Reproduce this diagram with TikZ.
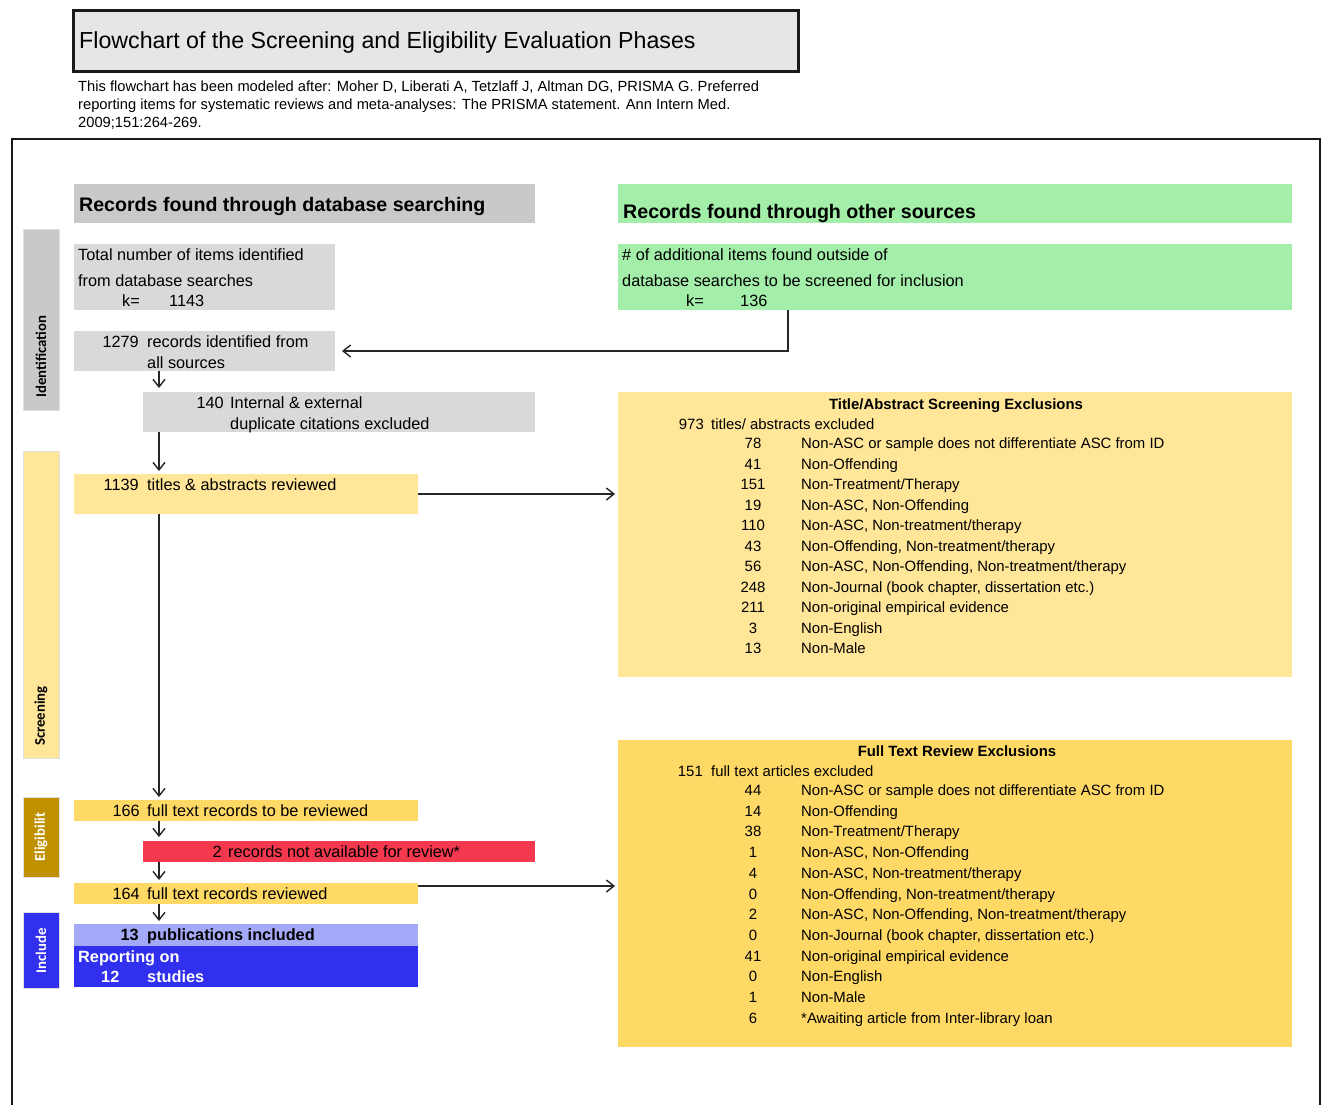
\documentclass[tikz,border=0pt]{standalone}
\usepackage{fontspec}
\setmainfont{Liberation Sans}
\newfontfamily\carl{Carlito}
\usetikzlibrary{arrows.meta,calc}
\definecolor{titlegray}{HTML}{E6E6E6}
\definecolor{hdrgray}{HTML}{C9C9C9}
\definecolor{boxgray}{HTML}{D9D9D9}
\definecolor{grn}{HTML}{A3EEA9}
\definecolor{ylight}{HTML}{FFE699}
\definecolor{ydark}{HTML}{FFD966}
\definecolor{redbox}{HTML}{F4384E}
\definecolor{lblue}{HTML}{A4A9F8}
\definecolor{dblue}{HTML}{3030EE}
\definecolor{gold}{HTML}{BF9000}
\begin{document}
\begin{tikzpicture}[x=1pt,y=-1pt,
  blk/.style={rectangle,draw=none,inner sep=0pt,outer sep=0pt,anchor=north west},
  side/.style={blk,draw=black!12,line width=1pt},
  tl/.style={inner sep=0pt,anchor=base west,font=\fontsize{16.3}{18}\selectfont},
  tn/.style={inner sep=0pt,anchor=base east,font=\fontsize{16.3}{18}\selectfont},
  tr/.style={inner sep=0pt,anchor=base west,font=\fontsize{14.9}{17}\selectfont},
  trn/.style={inner sep=0pt,anchor=base,font=\fontsize{14.9}{17}\selectfont},
  hdr/.style={inner sep=0pt,anchor=base west,font=\fontsize{19.6}{22}\selectfont\bfseries},
  sidelbl/.style={inner sep=0pt,rotate=90,font=\carl\fontsize{14.8}{16}\selectfont\bfseries},
  arr/.style={-{Straight Barb[length=7.5pt,width=12pt,line width=1.4pt]},line width=1.5pt,draw=black!85}
]
\useasboundingbox (0,0) rectangle (1326,1104);

% title
\node[blk,fill=titlegray,draw=black!90,line width=3pt,minimum width=725pt,minimum height=61pt] (title) at (73,10) {};
\node[inner sep=0pt,anchor=base west,font=\fontsize{23.2}{26}\selectfont] (titletxt) at (79,48) {Flowchart of the Screening and Eligibility Evaluation Phases};
\node[inner sep=0pt,anchor=base west,font=\fontsize{14.7}{17}\selectfont] (note1) at (78,91) {This flowchart has been modeled after: Moher D, Liberati A, Tetzlaff J, Altman DG, PRISMA G. Preferred};
\node[inner sep=0pt,anchor=base west,font=\fontsize{14.7}{17}\selectfont] (note2) at (78,109) {reporting items for systematic reviews and meta-analyses: The PRISMA statement. Ann Intern Med.};
\node[inner sep=0pt,anchor=base west,font=\fontsize{14.7}{17}\selectfont] (note3) at (78,127) {2009;151:264-269.};

% frame
\draw[line width=2.7pt,black!90] (12,1106) -- (12,139) -- (1320,139) -- (1320,1106);

% headers
\node[blk,fill=hdrgray,minimum width=461pt,minimum height=39pt] (hdrL) at (74,184) {};
\node[hdr] (hdrLt) at (79,211) {Records found through database searching};
\node[blk,fill=grn,minimum width=674pt,minimum height=39pt] (hdrR) at (618,184) {};
\node[hdr] (hdrRt) at (623,218) {Records found through other sources};

% side labels
\node[side,fill=hdrgray,minimum width=36pt,minimum height=181pt] (idside) at (23,229) {};
\node[sidelbl,anchor=west,text=black] (idlbl) at (41,398) {Identification};
\node[side,fill=ylight,minimum width=36pt,minimum height=307pt] (scrside) at (23,451) {};
\node[sidelbl,anchor=west,text=black] (scrlbl) at (41,746) {Screening};
\node[side,fill=gold,minimum width=36pt,minimum height=80pt] (elside) at (23,797) {};
\node[sidelbl,text=white] (ellbl) at (41,837) {Eligibilit};
\node[side,fill=dblue,minimum width=36pt,minimum height=76pt] (incside) at (23,912) {};
\node[sidelbl,text=white] (inclbl) at (41,951) {Include};

% identification boxes
\node[blk,fill=boxgray,minimum width=261pt,minimum height=66pt] (tot) at (74,244) {};
\node[tl] (tot1) at (78,260) {Total number of items identified};
\node[tl] (tot2) at (78,286) {from database searches};
\node[tl] (tot3) at (122,306) {k=};
\node[tl] (tot4) at (169,306) {1143};

\node[blk,fill=grn,minimum width=674pt,minimum height=66pt] (oth) at (618,244) {};
\node[tl] (oth1) at (622,260) {\# of additional items found outside of};
\node[tl] (oth2) at (622,286) {database searches to be screened for inclusion};
\node[tl] (oth3) at (686,306) {k=};
\node[tl] (oth4) at (740,306) {136};

\node[blk,fill=boxgray,minimum width=261pt,minimum height=40pt] (b1279) at (74,331) {};
\node[tn] (b1279n) at (139,347) {1279};
\node[tl] (b1279a) at (147,347) {records identified from};
\node[tl] (b1279b) at (147,368) {all sources};

\node[blk,fill=boxgray,minimum width=392pt,minimum height=40pt] (b140) at (143,392) {};
\node[tn] (b140n) at (224,408) {140};
\node[tl] (b140a) at (230,408) {Internal \& external};
\node[tl] (b140b) at (230,429) {duplicate citations excluded};

% screening
\node[blk,fill=ylight,minimum width=344pt,minimum height=40pt] (b1139) at (74,474) {};
\node[tn] (b1139n) at (139,490) {1139};
\node[tl] (b1139a) at (147,490) {titles \& abstracts reviewed};

\node[blk,fill=ylight,minimum width=674pt,minimum height=285pt] (ta) at (618,392) {};
\node[inner sep=0pt,anchor=base,font=\fontsize{14.9}{17}\selectfont\bfseries] (tatitle) at (956,409) {Title/Abstract Screening Exclusions};
\node[inner sep=0pt,anchor=base east,font=\fontsize{14.9}{17}\selectfont] (tan) at (704,429) {973};
\node[tr] (tatxt) at (711,429) {titles/ abstracts excluded};
\foreach \n/\t [count=\i from 0] in {78/{Non-ASC or sample does not differentiate ASC from ID},41/{Non-Offending},151/{Non-Treatment/Therapy},19/{Non-ASC, Non-Offending},110/{Non-ASC, Non-treatment/therapy},43/{Non-Offending, Non-treatment/therapy},56/{Non-ASC, Non-Offending, Non-treatment/therapy},248/{Non-Journal (book chapter, dissertation etc.)},211/{Non-original empirical evidence},3/{Non-English},13/{Non-Male}}{
  \node[trn] (tan\i) at (753,{448.5+20.5*\i}) {\n};
  \node[tr] (tat\i) at (801,{448.5+20.5*\i}) {\t};
}

% eligibility
\node[blk,fill=ydark,minimum width=674pt,minimum height=307pt] (ft) at (618,740) {};
\node[inner sep=0pt,anchor=base,font=\fontsize{14.9}{17}\selectfont\bfseries] (fttitle) at (957,756) {Full Text Review Exclusions};
\node[inner sep=0pt,anchor=base east,font=\fontsize{14.9}{17}\selectfont] (ftn) at (703,776) {151};
\node[tr] (fttxt) at (711,776) {full text articles excluded};
\foreach \n/\t [count=\i from 0] in {44/{Non-ASC or sample does not differentiate ASC from ID},14/{Non-Offending},38/{Non-Treatment/Therapy},1/{Non-ASC, Non-Offending},4/{Non-ASC, Non-treatment/therapy},0/{Non-Offending, Non-treatment/therapy},2/{Non-ASC, Non-Offending, Non-treatment/therapy},0/{Non-Journal (book chapter, dissertation etc.)},41/{Non-original empirical evidence},0/{Non-English},1/{Non-Male},6/{*Awaiting article from Inter-library loan}}{
  \node[trn] (ftn\i) at (753,{795.5+20.7*\i}) {\n};
  \node[tr] (ftt\i) at (801,{795.5+20.7*\i}) {\t};
}

\node[blk,fill=ydark,minimum width=344pt,minimum height=21pt] (b166) at (74,800) {};
\node[tn] (b166n) at (140,816.5) {166};
\node[tl] (b166a) at (147,816.5) {full text records to be reviewed};

\node[blk,fill=redbox,minimum width=392pt,minimum height=21pt] (bred) at (143,841) {};
\node[tn] (bredn) at (222,857) {2};
\node[tl] (breda) at (228,857) {records not available for review*};

\node[blk,fill=ydark,minimum width=344pt,minimum height=21pt] (b164) at (74,883) {};
\node[tn] (b164n) at (140,899) {164};
\node[tl] (b164a) at (147,899) {full text records reviewed};

% included
\node[blk,fill=lblue,minimum width=344pt,minimum height=22pt] (b13) at (74,924) {};
\node[tn,font=\fontsize{16.3}{18}\selectfont\bfseries] (b13n) at (139,940) {13};
\node[tl,font=\fontsize{16.3}{18}\selectfont\bfseries] (b13a) at (147,940) {publications included};
\node[blk,fill=dblue,minimum width=344pt,minimum height=41pt] (brep) at (74,946) {};
\node[tl,font=\fontsize{16.3}{18}\selectfont\bfseries,text=white] (brep1) at (78,962) {Reporting on};
\node[tl,font=\fontsize{16.3}{18}\selectfont\bfseries,text=white] (brep2) at (101,982) {12};
\node[tl,font=\fontsize{16.3}{18}\selectfont\bfseries,text=white] (brep3) at (147,982) {studies};

% connectors
\coordinate (cx) at (159,0);
\coordinate (gx) at (788,0);
\draw[arr,shorten >=7pt] (oth.south -| gx) |- (b1279.east);
\draw[arr,shorten >=4pt] (b1279.south -| cx) -- (b140.north -| cx);
\draw[arr,shorten >=3pt] (b140.south -| cx) -- (b1139.north -| cx);
\draw[arr,shorten >=3pt] (b1139.east) -- (b1139.east -| ta.west);
\draw[arr,shorten >=3pt] (b1139.south -| cx) -- (b166.north -| cx);
\draw[arr,shorten >=4pt] (b166.south -| cx) -- (bred.north -| cx);
\draw[arr,shorten >=3pt] (bred.south -| cx) -- (b164.north -| cx);
\coordinate (b164r) at ($(b164.north east)+(0,3)$);
\draw[arr,shorten >=3pt] (b164r) -- (b164r -| ft.west);
\draw[arr,shorten >=3pt] (b164.south -| cx) -- (b13.north -| cx);
\end{tikzpicture}
\end{document}
